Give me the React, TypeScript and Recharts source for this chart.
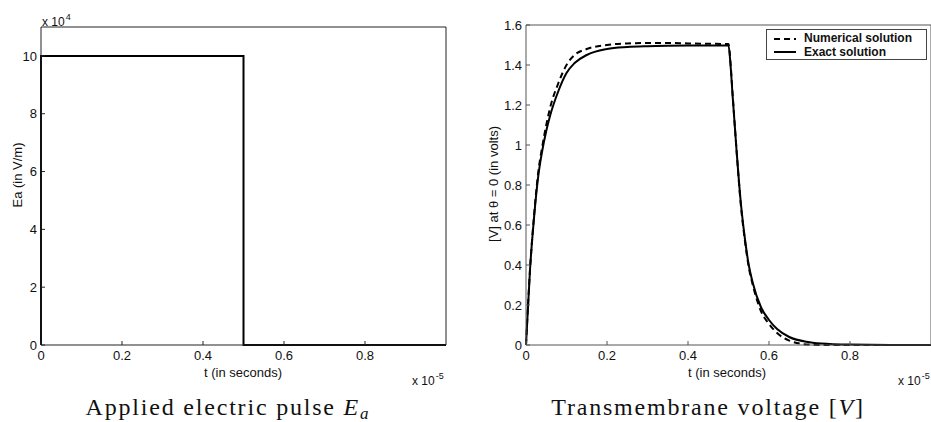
import React from 'react';
import { LineChart, Line, XAxis, YAxis, Legend } from 'recharts';

// ---------------------------------------------------------------------------
// Data (time axis in units of 1e-5 s, Ea in units of 1e4 V/m)
// ---------------------------------------------------------------------------

const pulseTime = [0, 0, 0.5, 0.5, 1];
const pulseEa = [0, 10, 10, 0, 0];

const voltTime = [
  0, 0.01, 0.02, 0.03, 0.04, 0.05, 0.06, 0.08, 0.1, 0.12, 0.15, 0.2, 0.25, 0.3,
  0.35, 0.4, 0.45, 0.5, 0.505, 0.51, 0.52, 0.53, 0.54, 0.55, 0.56, 0.58, 0.6,
  0.62, 0.65, 0.7, 0.75, 0.8, 0.9, 1,
];
const voltNumerical = [
  0, 0.38, 0.65, 0.86, 0.99, 1.1, 1.19, 1.31, 1.4, 1.45, 1.48, 1.5, 1.508, 1.51,
  1.51, 1.508, 1.506, 1.505, 1.41, 1.26, 0.97, 0.71, 0.53, 0.39, 0.3, 0.17,
  0.105, 0.06, 0.022, 0.002, 0, 0, 0, 0,
];
const voltExact = [
  0, 0.38, 0.64, 0.84, 0.97, 1.07, 1.15, 1.27, 1.36, 1.41, 1.45, 1.48, 1.49,
  1.494, 1.496, 1.497, 1.497, 1.497, 1.4, 1.25, 0.97, 0.72, 0.54, 0.4, 0.31,
  0.19, 0.125, 0.08, 0.04, 0.014, 0.005, 0.002, 0, 0,
];

const seriesNames = ['Numerical solution', 'Exact solution'];

const timeTicks = [0, 0.2, 0.4, 0.6, 0.8];
const eaTicks = [0, 2, 4, 6, 8, 10];
const voltTicks = [0, 0.2, 0.4, 0.6, 0.8, 1, 1.2, 1.4, 1.6];

const SANS = '"Liberation Sans", Arial, Helvetica, sans-serif';
const SERIF = '"Liberation Serif", "Times New Roman", serif';

// ---------------------------------------------------------------------------
// Small text helpers
// ---------------------------------------------------------------------------

interface TextProps {
  x: number;
  baseline: number;
  size?: number;
  center?: boolean;
  family?: string;
  spacing?: number;
  padBottom?: number;
  children: React.ReactNode;
}

function Txt({ x, baseline, size = 13, center, family = SANS, spacing, padBottom, children }: TextProps) {
  return (
    <div
      style={{
        position: 'absolute',
        left: x,
        top: baseline - 0.84 * size,
        fontSize: size,
        lineHeight: `${size}px`,
        fontFamily: family,
        whiteSpace: 'nowrap',
        letterSpacing: spacing,
        paddingBottom: padBottom,
        color: '#111',
        transform: center ? 'translateX(-50%)' : undefined,
      }}
    >
      {children}
    </div>
  );
}

function Sup({ children }: { children: React.ReactNode }) {
  return (
    <span style={{ fontSize: 9, verticalAlign: '6px', marginLeft: 1, lineHeight: '9px' }}>
      {children}
    </span>
  );
}

function VLabel({ cx, cy, children }: { cx: number; cy: number; children: React.ReactNode }) {
  return (
    <div
      style={{
        position: 'absolute',
        left: cx,
        top: cy,
        fontSize: 13,
        lineHeight: '13px',
        fontFamily: SANS,
        whiteSpace: 'nowrap',
        color: '#111',
        transform: 'translate(-50%, -50%) rotate(-90deg)',
      }}
    >
      {children}
    </div>
  );
}

function LegendBox({ payload }: any) {
  const items = [...(payload || [])].sort(
    (a: any, b: any) => seriesNames.indexOf(a.value) - seriesNames.indexOf(b.value)
  );
  return (
    <div
      style={{
        width: 161,
        height: 31,
        boxSizing: 'border-box',
        border: '1px solid #444',
        background: '#fff',
        padding: '2px 0 0 6px',
        fontFamily: SANS,
        fontWeight: 'bold',
        fontSize: 12,
        color: '#111',
      }}
    >
      {items.map((entry: any) => (
        <div key={entry.value} style={{ display: 'flex', alignItems: 'center', height: 13.5 }}>
          <svg width={24} height={6} style={{ display: 'block' }}>
            <line
              x1={1}
              y1={3}
              x2={23}
              y2={3}
              stroke={entry.color}
              strokeWidth={2}
              strokeDasharray={entry.payload?.strokeDasharray}
            />
          </svg>
          <span style={{ marginLeft: 7, lineHeight: '13px' }}>{entry.value}</span>
        </div>
      ))}
    </div>
  );
}

// ---------------------------------------------------------------------------
// Charts
// ---------------------------------------------------------------------------

const tickStyle = { fill: '#111', fontSize: 13, fontFamily: SANS };

function PulseChart() {
  const data = pulseTime.map((t, i) => ({ t, ea: pulseEa[i] }));
  const axisColor = '#222';
  return (
    <LineChart
      width={460}
      height={422}
      data={data}
      margin={{ top: 26, right: 13, bottom: 47, left: 11 }}
      style={{ position: 'absolute', left: 0, top: 0 }}
    >
      <XAxis
        dataKey="t"
        type="number"
        domain={[0, 1]}
        ticks={timeTicks}
        interval={0}
        height={30}
        tickSize={-4}
        tickMargin={10}
        tick={tickStyle}
        stroke={axisColor}
      />
      <XAxis
        xAxisId="top"
        orientation="top"
        dataKey="t"
        type="number"
        domain={[0, 1]}
        ticks={timeTicks}
        interval={0}
        height={1}
        tickSize={-4}
        tick={false}
        stroke={axisColor}
      />
      <YAxis
        type="number"
        domain={[0, 11]}
        ticks={eaTicks}
        interval={0}
        width={30}
        tickSize={-4}
        tickMargin={8}
        tick={tickStyle}
        stroke={axisColor}
      />
      <YAxis
        yAxisId="right"
        orientation="right"
        type="number"
        domain={[0, 11]}
        ticks={eaTicks}
        interval={0}
        width={1}
        tickSize={-4}
        tick={false}
        stroke={axisColor}
      />
      <Line
        type="linear"
        dataKey="ea"
        stroke="#000"
        strokeWidth={2}
        dot={false}
        activeDot={false}
        isAnimationActive={false}
      />
    </LineChart>
  );
}

function VoltageChart() {
  const data = voltTime.map((t, i) => ({
    t,
    numerical: voltNumerical[i],
    exact: voltExact[i],
  }));
  const axisColor = '#555';
  return (
    <LineChart
      width={470}
      height={422}
      data={data}
      margin={{ top: 24, right: 8, bottom: 47, left: 16 }}
      style={{ position: 'absolute', left: 470, top: 0 }}
    >
      <XAxis
        dataKey="t"
        type="number"
        domain={[0, 1]}
        ticks={timeTicks}
        interval={0}
        height={30}
        tickSize={-4}
        tickMargin={10}
        tick={tickStyle}
        stroke={axisColor}
      />
      <XAxis
        xAxisId="top"
        orientation="top"
        dataKey="t"
        type="number"
        domain={[0, 1]}
        ticks={timeTicks}
        interval={0}
        height={1}
        tickSize={-4}
        tick={false}
        stroke={axisColor}
      />
      <YAxis
        type="number"
        domain={[0, 1.6]}
        ticks={voltTicks}
        interval={0}
        width={40}
        tickSize={-4}
        tickMargin={8}
        tick={tickStyle}
        stroke={axisColor}
      />
      <YAxis
        yAxisId="right"
        orientation="right"
        type="number"
        domain={[0, 1.6]}
        ticks={voltTicks}
        interval={0}
        width={1}
        tickSize={-4}
        tick={false}
        stroke={axisColor}
      />
      <Legend
        layout="horizontal"
        verticalAlign="middle"
        align="center"
        content={<LegendBox />}
        wrapperStyle={{ position: 'absolute', left: 296, top: 29, width: 161, height: 31 }}
      />
      <Line
        type="monotone"
        dataKey="numerical"
        name={seriesNames[0]}
        stroke="#000"
        strokeWidth={2}
        strokeDasharray="6 4"
        dot={false}
        activeDot={false}
        isAnimationActive={false}
      />
      <Line
        type="monotone"
        dataKey="exact"
        name={seriesNames[1]}
        stroke="#000"
        strokeWidth={2}
        dot={false}
        activeDot={false}
        isAnimationActive={false}
      />
    </LineChart>
  );
}

export default function App() {
  return (
    <div
      style={{
        position: 'absolute',
        left: 0,
        top: 0,
        width: 931,
        height: 422,
        overflow: 'hidden',
        background: '#fff',
      }}
    >
      <PulseChart />
      <VoltageChart />

      {/* left panel annotations */}
      <Txt x={42} baseline={23.5} size={12}>
        x 10<Sup>4</Sup>
      </Txt>
      <VLabel cx={17} cy={175}>Ea (in V/m)</VLabel>
      <Txt x={243} baseline={377} center>
        t (in seconds)
      </Txt>
      <Txt x={412} baseline={382} size={12}>
        x 10<Sup>-5</Sup>
      </Txt>

      {/* right panel annotations */}
      <VLabel cx={493} cy={184}>[V] at θ = 0 (in volts)</VLabel>
      <Txt x={727} baseline={377} center>
        t (in seconds)
      </Txt>
      <Txt x={898} baseline={382} size={12}>
        x 10<Sup>-5</Sup>
      </Txt>

      {/* captions */}
      <Txt x={228} baseline={415} size={24} family={SERIF} spacing={1.8} padBottom={4} center>
        Applied electric pulse <i>E</i>
        <i style={{ fontSize: 17, verticalAlign: '-4px', lineHeight: '17px' }}>a</i>
      </Txt>
      <Txt x={708} baseline={415} size={24} family={SERIF} spacing={1.8} padBottom={4} center>
        Transmembrane voltage [<i>V</i>]
      </Txt>
    </div>
  );
}
